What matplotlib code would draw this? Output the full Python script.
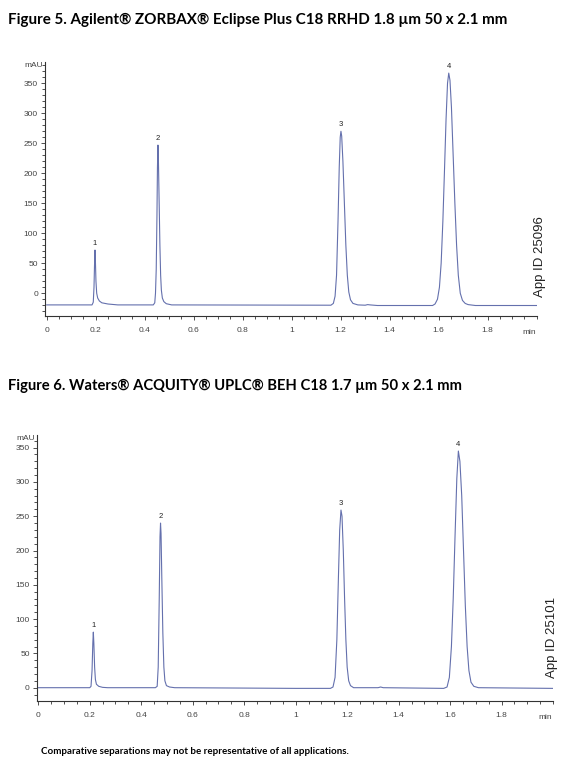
import matplotlib
matplotlib.use("Agg")
import matplotlib.pyplot as plt
from matplotlib.ticker import MultipleLocator

plt.rcParams["font.family"] = ["Liberation Sans", "DejaVu Sans"]

# chromatogram traces: (time in min, absorbance in mAU)
zorbax_time = [0.0, 0.185, 0.190, 0.193, 0.195, 0.197, 0.199, 0.201, 0.204, 0.208, 0.215,
               0.225, 0.25, 0.29, 0.435, 0.441, 0.444, 0.447, 0.450, 0.452, 0.454, 0.456,
               0.459, 0.462, 0.465, 0.468, 0.472, 0.478, 0.488, 0.51, 1.16, 1.17, 1.177,
               1.183, 1.189, 1.194, 1.198, 1.201, 1.204, 1.209, 1.215, 1.221, 1.227, 1.233,
               1.24, 1.25, 1.27, 1.30, 1.31, 1.32, 1.35, 1.575, 1.585, 1.595, 1.603, 1.61,
               1.617, 1.624, 1.63, 1.636, 1.641, 1.646, 1.652, 1.659, 1.666, 1.673, 1.68,
               1.688, 1.697, 1.708, 1.72, 1.75, 2.0]
zorbax_mau = [-19.5, -19.5, -15, 10, 45, 72, 50, 20, 0, -8, -13,
              -16, -18, -19.5, -19.5, -16, 0, 40, 130, 210, 247, 220,
              150, 80, 30, 5, -8, -14, -17.5, -19.5, -20, -17, -5,
              30, 120, 210, 260, 270, 262, 220, 150, 80, 30, 2,
              -11, -17, -19.5, -20, -19, -19.5, -20.5, -20.5, -18, -10, 10, 50,
              120, 210, 290, 350, 367, 355, 310, 230, 150, 80, 30,
              0, -12, -17, -19, -20.5, -20.5]
zorbax_peak_t = [0.197, 0.454, 1.201, 1.641]
zorbax_peak_h = [72, 247, 270, 367]

acquity_time = [0.0, 0.200, 0.205, 0.209, 0.212, 0.214, 0.216, 0.219, 0.222, 0.226, 0.235,
                0.25, 0.27, 0.455, 0.462, 0.466, 0.470, 0.473, 0.475, 0.477, 0.480, 0.484,
                0.488, 0.492, 0.498, 0.51, 0.53, 0.77, 1.0, 1.135, 1.145, 1.153, 1.16,
                1.166, 1.171, 1.176, 1.18, 1.185, 1.19, 1.195, 1.2, 1.206, 1.213, 1.225,
                1.32, 1.33, 1.34, 1.575, 1.588, 1.597, 1.605, 1.612, 1.619, 1.626, 1.632,
                1.638, 1.645, 1.652, 1.659, 1.666, 1.673, 1.681, 1.692, 1.71, 2.0]
acquity_mau = [0, 0, 2, 25, 65, 81, 65, 30, 12, 5, 2,
               0.5, 0, 0, 2, 30, 130, 220, 240, 225, 160, 80,
               30, 10, 3, 1, 0, -0.5, -1, -1, 1, 15, 70,
               160, 230, 259, 250, 200, 130, 70, 30, 10, 3, 0,
               0, 1, 0, -1, 1, 15, 60, 130, 220, 305, 345,
               330, 280, 200, 120, 60, 25, 8, 2, 0, -1]
acquity_peak_t = [0.214, 0.475, 1.176, 1.632]
acquity_peak_h = [81, 240, 259, 345]
peak_labels = ["1", "2", "3", "4"]

x_ticks = [0, 0.2, 0.4, 0.6, 0.8, 1.0, 1.2, 1.4, 1.6, 1.8]
x_ticklabels = ["0", "0.2", "0.4", "0.6", "0.8", "1", "1.2", "1.4", "1.6", "1.8"]
y_ticks = [0, 50, 100, 150, 200, 250, 300, 350]

titles = ["Figure 5. Agilent\u00ae ZORBAX\u00ae Eclipse Plus C18 RRHD 1.8 \u00b5m 50 x 2.1 mm",
          "Figure 6. Waters\u00ae ACQUITY\u00ae UPLC\u00ae BEH C18 1.7 \u00b5m 50 x 2.1 mm"]
app_ids = ["App ID 25096", "App ID 25101"]
footnote = "Comparative separations may not be representative of all applications."

trace_color = "#6470ad"
tick_color = "#444444"

W, H = 579, 775
fig = plt.figure(figsize=(W / 100, H / 100), dpi=100)


def draw_chrom(rect, t, a, pk_t, pk_h, xlim, ylim, app_id, app_xy):
    ax = fig.add_axes(rect)
    ax.plot(t, a, color=trace_color, lw=0.8)
    for lab, pt, ph in zip(peak_labels, pk_t, pk_h):
        ax.annotate(lab, (pt, ph), xytext=(0, 2), textcoords="offset points",
                    ha="center", va="bottom", fontsize=5.5, color="#222222")
    ax.set_xlim(*xlim)
    ax.set_ylim(*ylim)
    for s in ["top", "right"]:
        ax.spines[s].set_visible(False)
    for s in ["left", "bottom"]:
        ax.spines[s].set_color("#333333")
        ax.spines[s].set_linewidth(0.8)
    ax.set_xticks(x_ticks)
    ax.set_xticklabels(x_ticklabels)
    ax.set_yticks(y_ticks)
    ax.xaxis.set_minor_locator(MultipleLocator(0.05))
    ax.yaxis.set_minor_locator(MultipleLocator(10))
    ax.tick_params(which="both", direction="out", labelsize=6, labelcolor=tick_color,
                   color="#333333", width=0.6)
    ax.tick_params(which="major", length=3, pad=5)
    ax.tick_params(axis="y", which="major", pad=2)
    ax.tick_params(which="minor", length=2)
    # axis unit labels
    ax.text(-0.004, 1.0, "mAU", transform=ax.transAxes, ha="right", va="top",
            fontsize=6, color=tick_color)
    ax.text(0.985, -0.05, "min", transform=ax.transAxes, ha="center", va="top",
            fontsize=6, color=tick_color)
    fig.text(app_xy[0] / W, 1 - app_xy[1] / H, app_id, rotation=90, ha="center", va="bottom",
             fontsize=9.5, color="#222222")
    return ax


draw_chrom([45 / W, 1 - 316 / H, 491.7 / W, 254 / H], zorbax_time, zorbax_mau,
           zorbax_peak_t, zorbax_peak_h, (-0.007, 2.0), (-38, 385.5), app_ids[0], (540, 297))
draw_chrom([36.7 / W, 1 - 701 / H, 516.4 / W, 266 / H], acquity_time, acquity_mau,
           acquity_peak_t, acquity_peak_h, (-0.006, 2.0), (-19.4, 368.4), app_ids[1], (552, 678))

fig.text(8 / W, 1 - 20 / H, titles[0], ha="left", va="center", fontsize=10.9,
         family="Lato", fontweight="bold")
fig.text(8 / W, 1 - 386 / H, titles[1], ha="left", va="center", fontsize=10.6,
         family="Lato", fontweight="bold")
fig.text(41 / W, 1 - 751 / H, footnote, ha="left", va="center", fontsize=7,
         family="Lato", fontweight="bold")

fig.savefig("out.png", dpi=100)
